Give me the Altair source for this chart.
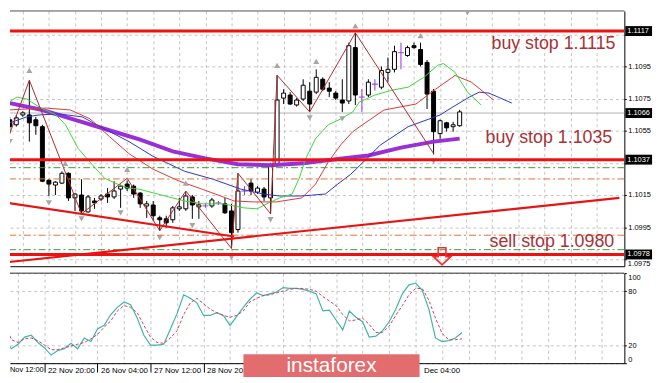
import altair as alt
import pandas as pd

# ---------------- data ----------------
# H4 candles, bar index 0..69
bar_open = [1.10618, 1.10587, 1.10648, 1.10648, 1.10618, 1.10575, 1.10242, 1.10212, 1.10224, 1.10285,
            1.10132, 1.10150, 1.10045, 1.10113, 1.10125, 1.10156, 1.10138, 1.10187, 1.10218, 1.10205,
            1.10162, 1.10082, 1.10088, 1.10008, 1.10002, 1.09996, 1.10064, 1.10064, 1.10138, 1.10076,
            1.10082, 1.10082, 1.10101, 1.10095, 1.10051, 1.09935, 1.10175, 1.10224, 1.10168, 1.10187,
            1.10132, 1.10335, 1.10753, 1.10772, 1.10710, 1.10747, 1.10796, 1.10790, 1.10870, 1.10815,
            1.10784, 1.10741, 1.10735, 1.11067, 1.10759, 1.10772, 1.10839, 1.10821, 1.10913, 1.10932,
            1.11036, 1.11018, 1.11079, 1.11055, 1.10975, 1.10796, 1.10532, 1.10599, 1.10575, 1.10581]
bar_high = [1.10636, 1.10648, 1.10672, 1.10864, 1.10636, 1.10587, 1.10248, 1.10236, 1.10297, 1.10291,
            1.10162, 1.10248, 1.10150, 1.10132, 1.10156, 1.10193, 1.10236, 1.10215, 1.10240, 1.10215,
            1.10168, 1.10113, 1.10113, 1.10021, 1.10021, 1.10082, 1.10132, 1.10168, 1.10150, 1.10113,
            1.10100, 1.10132, 1.10113, 1.10132, 1.10095, 1.10285, 1.10205, 1.10248, 1.10205, 1.10200,
            1.10350, 1.10895, 1.10808, 1.10790, 1.10753, 1.10870, 1.10852, 1.10932, 1.10882, 1.10852,
            1.10796, 1.10870, 1.11098, 1.11159, 1.10808, 1.10870, 1.10870, 1.10950, 1.11005, 1.11079,
            1.11098, 1.11079, 1.11098, 1.11098, 1.10990, 1.10810, 1.10620, 1.10605, 1.10605, 1.10680]
bar_low = [1.10532, 1.10575, 1.10636, 1.10482, 1.10525, 1.10230, 1.10144, 1.10150, 1.10218, 1.10113,
           1.10051, 1.10033, 1.10040, 1.10064, 1.10113, 1.10101, 1.10125, 1.10070, 1.10175, 1.10132,
           1.10070, 1.10008, 1.09990, 1.09928, 1.09947, 1.09977, 1.10051, 1.10051, 1.10002, 1.10002,
           1.10070, 1.10070, 1.10088, 1.10033, 1.09818, 1.09916, 1.10150, 1.10150, 1.10156, 1.10113,
           1.10033, 1.10328, 1.10716, 1.10710, 1.10700, 1.10735, 1.10667, 1.10778, 1.10796, 1.10759,
           1.10741, 1.10667, 1.10716, 1.10710, 1.10667, 1.10759, 1.10800, 1.10808, 1.10852, 1.10913,
           1.10932, 1.11010, 1.11060, 1.10950, 1.10685, 1.10402, 1.10500, 1.10544, 1.10544, 1.10575]
bar_close = [1.10575, 1.10630, 1.10661, 1.10599, 1.10581, 1.10236, 1.10218, 1.10230, 1.10285, 1.10132,
             1.10156, 1.10051, 1.10138, 1.10101, 1.10144, 1.10138, 1.10175, 1.10205, 1.10193, 1.10156,
             1.10095, 1.10095, 1.10021, 1.09996, 1.09977, 1.10070, 1.10076, 1.10144, 1.10088, 1.10088,
             1.10082, 1.10119, 1.10101, 1.10039, 1.09916, 1.10175, 1.10175, 1.10175, 1.10193, 1.10138,
             1.10328, 1.10741, 1.10784, 1.10716, 1.10741, 1.10833, 1.10716, 1.10882, 1.10808, 1.10796,
             1.10753, 1.10722, 1.11079, 1.10772, 1.10759, 1.10852, 1.10839, 1.10925, 1.10932, 1.11042,
             1.11036, 1.11067, 1.11067, 1.10962, 1.10778, 1.10544, 1.10612, 1.10568, 1.10587, 1.10667]

# Stochastic oscillator (%K solid, %D dashed), same bar index
stoch_k = [27, 16, 21, 29, 31, 23, 17, 9, 14, 16,
           22, 16, 28, 24, 38, 42, 54, 62, 68, 65,
           50, 31, 20, 20, 21, 38, 55, 76, 72, 67,
           53, 53, 56, 53, 42, 52, 62, 71, 78, 75,
           77, 79, 84, 83, 83, 82, 80, 77, 58, 59,
           48, 37, 58, 51, 46, 29, 30, 36, 46, 60,
           77, 87, 89, 81, 60, 28, 24, 25, 28, 34]
stoch_d = [46, 26, 23, 27, 28, 25, 20, 15, 15, 17,
           19, 21, 23, 27, 32, 40, 47, 58, 64, 62,
           56, 42, 29, 23, 22, 28, 36, 54, 67, 72,
           66, 60, 56, 53, 51, 53, 58, 68, 72, 75,
           76, 78, 80, 82, 83, 83, 82, 80, 74, 69,
           64, 54, 47, 48, 50, 43, 34, 34, 41, 53,
           64, 76, 83, 83, 70, 50, 33, 26, 26, 27]

# moving-average lines (bar index, price)
purple_x = [0, 5, 10, 15, 20, 25, 30, 35, 40, 45, 50, 55, 60, 65, 69]
purple_y = [1.10722, 1.10679, 1.10618, 1.10556, 1.10495, 1.10421, 1.10378, 1.10341, 1.10335, 1.10347,
            1.10372, 1.10396, 1.10445, 1.10482, 1.10501]
blue_x = [-0.4, 2.6, 4.5, 7.5, 11.1, 14.5, 18.3, 22, 26.8, 31.2, 35.4, 38.9, 41.4, 44.8, 48.4, 50.3,
          52.3, 54.8, 56.8, 61.1, 66, 67.2, 70.5, 72, 73.5, 77]
blue_y = [1.10593, 1.10636, 1.10648, 1.10655, 1.10636, 1.10562, 1.10482, 1.10390, 1.10298, 1.10248,
          1.10187, 1.10156, 1.10144, 1.10144, 1.10156, 1.10218, 1.10279, 1.10378, 1.10460, 1.10575,
          1.10648, 1.10679, 1.10760, 1.10790, 1.10784, 1.10722]
red_x = [-0.4, 5.6, 9.3, 12.3, 15.3, 18.25, 22, 26, 29.45, 34.4, 37.4, 40.9, 44.8, 46.9, 48.9, 50.8,
         52.6, 54.1, 57.4, 62.3, 65.3, 68.3, 70.8, 74.2]
red_y = [1.10679, 1.10691, 1.10679, 1.10624, 1.10513, 1.10408, 1.10310, 1.10236, 1.10187, 1.10113,
         1.10107, 1.10107, 1.10132, 1.10218, 1.10359, 1.10464, 1.10544, 1.10587, 1.10679, 1.10716,
         1.10808, 1.10894, 1.10852, 1.10741]
green_x = [-0.4, 1.1, 2.6, 4.5, 7.1, 8.55, 10.5, 12.6, 14.5, 16.5, 18.25, 19.75, 22.7, 26.8, 29.7,
           32.7, 35.9, 37.95, 39.4, 41.4, 43.3, 44.4, 45.4, 46.9, 48.85, 50.8, 52.6, 53.6, 56, 58.6,
           61.1, 63.5, 65.6, 66.5, 68.3, 70.2, 72.3]
green_y = [1.10722, 1.10759, 1.10747, 1.10698, 1.10648, 1.10587, 1.10439, 1.10341, 1.10255, 1.10218,
           1.10193, 1.10187, 1.10156, 1.10113, 1.10095, 1.10095, 1.10070, 1.10064, 1.10095, 1.10132,
           1.10156, 1.10255, 1.10378, 1.10501, 1.10587, 1.10624, 1.10667, 1.10728, 1.10772, 1.10802,
           1.10821, 1.10882, 1.10956, 1.10968, 1.10913, 1.10790, 1.10710]

zigzag_x = [0, 3, 11, 18, 23, 27, 34, 35, 40, 41, 46, 53, 65]
zigzag_y = [1.10532, 1.10864, 1.10033, 1.10254, 1.09928, 1.10175, 1.09818, 1.10285, 1.10033, 1.10895,
            1.10667, 1.11159, 1.10408]

frac_up_x = [3, 8.5, 18, 27, 41, 47, 53, 63]
frac_up_y = [1.10925, 1.10347, 1.10310, 1.10224, 1.10956, 1.10981, 1.11202, 1.11141]
frac_dn_x = [0, 6, 11, 17, 23, 28, 34, 40, 46, 51, 65, 70.2]
frac_dn_y = [1.10482, 1.10101, 1.10002, 1.10039, 1.09885, 1.09959, 1.09762, 1.09996, 1.10630, 1.10624,
             1.10360, 1.11285]

level_red = [1.1117, 1.1037, 1.0978]
level_green = [1.1032, 1.0981]
level_orange = [1.1025, 1.0990]
last_price = [1.1066]

trend_up_x = [-0.4, 93.5]
trend_up_y = [1.09732, 1.10132]
trend_dn_x = [-0.4, 34.4]
trend_dn_y = [1.10101, 1.09892]

note_text = ["buy stop 1.1115", "buy stop 1.1035", "sell stop 1.0980"]
note_x = [92.9, 92.4, 92.7]
note_y = [1.11061, 1.10476, 1.09824]

arrow_x = [66.3]
arrow_y = [1.09769]

price_ticks = [1.0975, 1.0995, 1.1015, 1.1035, 1.1055, 1.1075, 1.1095, 1.1115]
hidden_price_labels = ["1.1115", "1.1035", "1.0975"]   # covered by the level boxes
low_price_label = [1.0975]                              # shown just below the 1.0978 box
grid_bars = list(range(2, 93, 4))
date_pos = [6, 14, 22, 30, 62]
date_text = ["22 Nov 20:00", "26 Nov 04:00", "27 Nov 12:00", "28 Nov 20:00", "Dec 04:00"]
first_label = ["Nov 12:00"]
stoch_ticks = [0, 20, 80, 100]

# ---------------- layout ----------------
W = 621
H1 = 258
H2 = 91
RB = 28          # width of the price-label strip on the right
FONT = "Liberation Sans"
GRID = "#c4c4c4"

xs = alt.Scale(domain=[0.79, 93.5], nice=False, zero=False)
ys = alt.Scale(domain=[1.09707, 1.11295], nice=False, zero=False)
ks = alt.Scale(domain=[0, 100], nice=False, zero=False)

hide_expr = "indexof([" + ",".join("'%s'" % s for s in hidden_price_labels) + "], datum.label) >= 0 ? '' : datum.label"
x_top_axis = alt.Axis(values=grid_bars, labels=False, ticks=False, domain=True, domainColor="black",
                      grid=True, gridColor=GRID, gridDash=[3, 3], title=None)
y_top_axis = alt.Axis(orient="right", values=price_ticks, format=".4f", labelExpr=hide_expr,
                      labelFont=FONT, labelFontSize=7.5,
                      labelColor="black", tickSize=2, tickColor="black", domainColor="black",
                      grid=True, gridColor=GRID, gridDash=[3, 3], title=None, labelPadding=1.5)

XT = alt.X("x:Q", scale=xs, axis=x_top_axis)
YT = alt.Y("y:Q", scale=ys, axis=y_top_axis)

bars = pd.DataFrame({"x": list(range(len(bar_open))), "o": bar_open, "h": bar_high,
                     "l": bar_low, "c": bar_close})
bars["kind"] = ["bull" if c > o else ("bear" if c < o else "doji") for o, c in zip(bars.o, bars.c)]
body = bars[bars.kind != "doji"]
doji = bars[bars.kind == "doji"].assign(y=lambda d: d.o)


def line_df(xv, yv):
    return pd.DataFrame({"x": xv, "y": yv})


one = pd.DataFrame({"a": [0]})
PURPLE = "#9a2fd6"

top_border = alt.Chart(one).mark_rule(color="#505050").encode(
    x=alt.value(0), x2=alt.value(W), y=alt.value(0))

last_line = alt.Chart(pd.DataFrame({"y": last_price})).mark_rule(color="#b4b4b4").encode(y=YT)

wick = alt.Chart(bars).mark_rule(clip=True, strokeWidth=1).encode(
    x=XT, y=alt.Y("l:Q", scale=ys, axis=y_top_axis), y2="h:Q",
    color=alt.Color("kind:N", scale=alt.Scale(domain=["bull", "bear", "doji"],
                                              range=["black", "black", PURPLE]), legend=None))
bodies = alt.Chart(body).mark_bar(size=4, stroke="black", strokeWidth=1, clip=True).encode(
    x=XT, y=alt.Y("o:Q", scale=ys, axis=y_top_axis), y2="c:Q",
    fill=alt.Fill("kind:N", scale=alt.Scale(domain=["bull", "bear"], range=["white", "black"]), legend=None))
doji_t = alt.Chart(doji).mark_tick(orient="horizontal", size=6, thickness=1.3, color=PURPLE, clip=True).encode(
    x=XT, y=YT)

ma_purple = alt.Chart(line_df(purple_x, purple_y)).mark_line(color=PURPLE, strokeWidth=4, clip=True).encode(x=XT, y=YT)
ma_blue = alt.Chart(line_df(blue_x, blue_y)).mark_line(color="#2b35c8", strokeWidth=1, clip=True).encode(x=XT, y=YT)
ma_red = alt.Chart(line_df(red_x, red_y)).mark_line(color="#d83a3a", strokeWidth=1, clip=True).encode(x=XT, y=YT)
ma_green = alt.Chart(line_df(green_x, green_y)).mark_line(color="#3ad83a", strokeWidth=1, clip=True).encode(x=XT, y=YT)
zz = alt.Chart(line_df(zigzag_x, zigzag_y)).mark_line(color="#b02a2a", strokeWidth=1, clip=True).encode(x=XT, y=YT)

fr_up = alt.Chart(line_df(frac_up_x, frac_up_y)).mark_point(
    shape="triangle-up", filled=True, color="#a6a6a6", size=38, opacity=1, clip=True).encode(x=XT, y=YT)
fr_dn = alt.Chart(line_df(frac_dn_x, frac_dn_y)).mark_point(
    shape="triangle-down", filled=True, color="#a6a6a6", size=38, opacity=1, clip=True).encode(x=XT, y=YT)

lv_green = alt.Chart(pd.DataFrame({"y": level_green})).mark_rule(
    color="#3d9a3d", strokeDash=[7, 3, 2, 3], strokeWidth=1).encode(y=YT)
lv_orange = alt.Chart(pd.DataFrame({"y": level_orange})).mark_rule(
    color="#e0703a", strokeDash=[7, 3, 2, 3], strokeWidth=1).encode(y=YT)
lv_red = alt.Chart(pd.DataFrame({"y": level_red})).mark_rule(color="#f01010", strokeWidth=3).encode(y=YT)

tr_up = alt.Chart(line_df(trend_up_x, trend_up_y)).mark_line(color="#e81414", strokeWidth=2.2, clip=True).encode(x=XT, y=YT)
tr_dn = alt.Chart(line_df(trend_dn_x, trend_dn_y)).mark_line(color="#e81414", strokeWidth=2.2, clip=True).encode(x=XT, y=YT)

notes = alt.Chart(pd.DataFrame({"x": note_x, "y": note_y, "t": note_text})).mark_text(
    align="right", baseline="alphabetic", font=FONT, fontSize=18, color="#a83236").encode(x=XT, y=YT, text="t:N")

arrow_shape = "M-0.45,-1 L0.45,-1 L0.45,0.05 L1,0.05 L0,1 L-1,0.05 L-0.45,0.05 Z"
arrow = alt.Chart(line_df(arrow_x, arrow_y)).mark_point(
    shape=arrow_shape, filled=False, color="#f03030", strokeWidth=1.6, size=300, opacity=1).encode(x=XT, y=YT)

boxes_df = pd.DataFrame({"y": level_red + last_price,
                         "t": ["%.4f" % v for v in level_red + last_price],
                         "k": ["lvl"] * len(level_red) + ["last"]})
boxes = alt.Chart(boxes_df).mark_rule(strokeWidth=10).encode(
    x=alt.value(W + 1), x2=alt.value(W + RB), y=YT,
    color=alt.Color("k:N", scale=alt.Scale(domain=["lvl", "last"], range=["#ff0000", "#000000"]), legend=None))
box_txt = alt.Chart(boxes_df).mark_text(align="left", baseline="middle", font=FONT, fontSize=7.5,
                                        color="white").encode(x=alt.value(W + 3), y=YT, text="t:N")
low_lbl = alt.Chart(pd.DataFrame({"y": low_price_label, "t": ["%.4f" % v for v in low_price_label]})).mark_text(
    align="left", baseline="top", font=FONT, fontSize=7.5, color="black", dy=1).encode(
    x=alt.value(W + 3.5), y=YT, text="t:N")

top = alt.layer(top_border, last_line, wick, bodies, doji_t, ma_purple, ma_blue, ma_red, ma_green, zz,
                fr_up, fr_dn, lv_green, lv_orange, lv_red, tr_up, tr_dn, notes, arrow, boxes, box_txt, low_lbl
                ).properties(width=W, height=H1)

# ---------------- stochastic panel ----------------
label_expr = " : ".join("datum.value == %d ? '%s'" % (p, t) for p, t in zip(date_pos, date_text)) + " : ''"
tick_test = "indexof([" + ",".join(str(p) for p in date_pos) + "], datum.value) >= 0"
x_bot_axis = alt.Axis(values=grid_bars, labelExpr=label_expr, grid=True, gridColor=GRID, gridDash=[3, 3],
                      tickSize=9, tickColor="black",
                      tickOpacity={"condition": {"test": tick_test, "value": 1}, "value": 0},
                      labelPadding=-6,
                      labelOffset={"condition": {"test": "datum.value == 62", "value": 8}, "value": 3},
                      labelAlign="left", labelBaseline="top",
                      labelFont=FONT, labelFontSize=8, labelColor="black", labelFlush=False,
                      labelOverlap=False, domainColor="black", title=None)
y_bot_axis = alt.Axis(orient="right", values=stoch_ticks, labelFont=FONT, labelFontSize=7.5, labelColor="black",
                      tickSize=2, tickColor="black", domainColor="black", grid=True, gridColor=GRID,
                      gridDash=[3, 3], labelFlush=True, title=None, labelPadding=1.5)
XB = alt.X("x:Q", scale=xs, axis=x_bot_axis)

st = pd.DataFrame({"x": list(range(len(stoch_k))), "k": stoch_k, "d": stoch_d})
k_line = alt.Chart(st).mark_line(color="#3fb5aa", strokeWidth=1.2, clip=True).encode(
    x=XB, y=alt.Y("k:Q", scale=ks, axis=y_bot_axis))
d_line = alt.Chart(st).mark_line(color="#d0405a", strokeWidth=1, strokeDash=[3, 2], clip=True).encode(
    x=XB, y=alt.Y("d:Q", scale=ks, axis=y_bot_axis))
bot_border = alt.Chart(one).mark_rule(color="#303030").encode(x=alt.value(0), x2=alt.value(W), y=alt.value(0))
first_lbl = alt.Chart(pd.DataFrame({"t": first_label})).mark_text(
    align="left", baseline="top", font=FONT, fontSize=7.5, color="black").encode(
    x=alt.value(0), y=alt.value(H2 + 3), text="t:N")
wm_box = alt.Chart(one).mark_rect(color="#e36c6e").encode(
    x=alt.value(236), x2=alt.value(414), y=alt.value(82), y2=alt.value(105))
wm_txt = alt.Chart(pd.DataFrame({"t": ["instaforex"]})).mark_text(
    align="center", baseline="middle", font=FONT, fontSize=21, color="white").encode(
    x=alt.value(325), y=alt.value(94), text="t:N")

bottom = alt.layer(bot_border, k_line, d_line, first_lbl, wm_box, wm_txt).properties(width=W, height=H2)

chart = alt.vconcat(top, bottom, spacing=4).resolve_scale(x="independent", y="independent").properties(
    padding=0, background="white").configure_view(stroke=None)

chart.save("out.html", embed_options={"renderer": "svg", "actions": False})
